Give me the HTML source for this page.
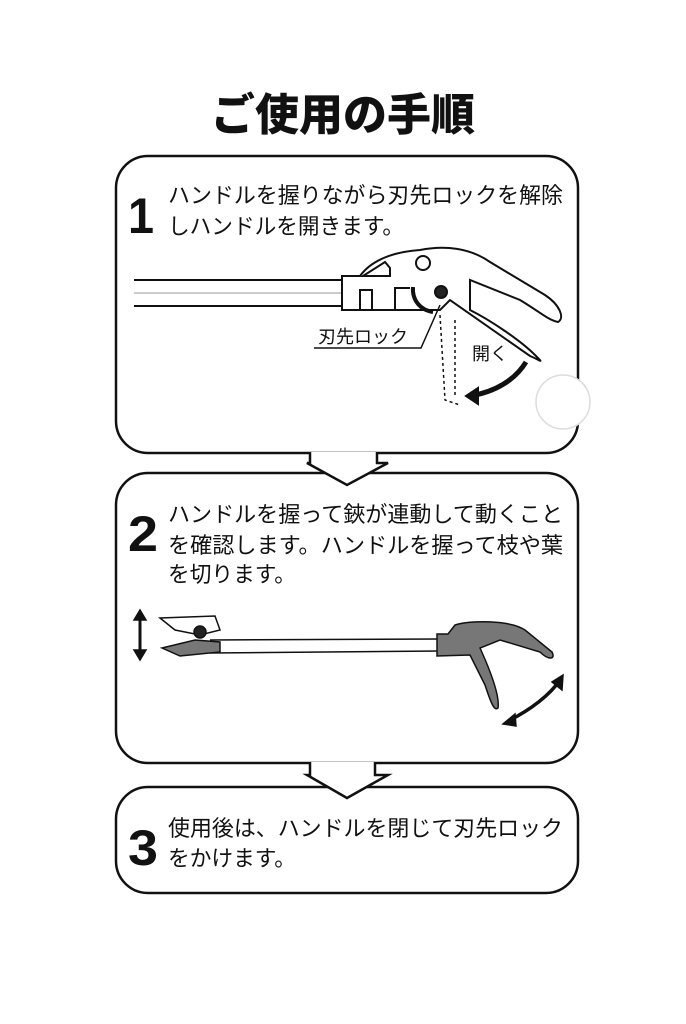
<!DOCTYPE html>
<html><head><meta charset="utf-8"><style>
html,body{margin:0;padding:0;background:#fff;}
svg{display:block}
.t{font-family:"Liberation Sans","Noto Sans CJK JP",sans-serif;font-size:22px;fill:#111}
.n{font-family:"Liberation Sans",sans-serif;font-weight:bold;font-size:50px;fill:#111}
</style></head><body>
<svg width="686" height="1024" viewBox="0 0 686 1024" xmlns="http://www.w3.org/2000/svg">
<text x="343" y="130" text-anchor="middle" style="font-family:'Liberation Sans','Noto Sans CJK JP',sans-serif;font-weight:900;font-size:44px;fill:#111">ご使用の手順</text>
<g fill="#fff" stroke="#111" stroke-width="2.5">
<rect x="116" y="156" width="462" height="297" rx="32"/>
<rect x="116" y="473" width="462" height="290" rx="32"/>
<rect x="116" y="787" width="462" height="106" rx="32"/>
<path d="M310 452 L310 463 L307 463 L347 485 L388 463 L377 463 L377 452"/>
<path d="M310 762 L310 775 L307 775 L347 798 L388 775 L375 775 L375 762"/>
</g>
<text class="n" x="128" y="233" textLength="26" lengthAdjust="spacingAndGlyphs">1</text>
<text class="t" x="168" y="203" textLength="395" lengthAdjust="spacingAndGlyphs">ハンドルを握りながら刃先ロックを解除</text>
<text class="t" x="168" y="234" textLength="236" lengthAdjust="spacingAndGlyphs">しハンドルを開きます。</text>
<text class="n" x="128" y="551" textLength="30" lengthAdjust="spacingAndGlyphs">2</text>
<text class="t" x="168" y="522" textLength="395" lengthAdjust="spacingAndGlyphs">ハンドルを握って鋏が連動して動くこと</text>
<text class="t" x="168" y="553" textLength="395" lengthAdjust="spacingAndGlyphs">を確認します。ハンドルを握って枝や葉</text>
<text class="t" x="168" y="582" textLength="128" lengthAdjust="spacingAndGlyphs">を切ります。</text>
<text class="n" x="128" y="865" textLength="30" lengthAdjust="spacingAndGlyphs">3</text>
<text class="t" x="168" y="836" textLength="395" lengthAdjust="spacingAndGlyphs">使用後は、ハンドルを閉じて刃先ロック</text>
<text class="t" x="168" y="866" textLength="128" lengthAdjust="spacingAndGlyphs">をかけます。</text>
<!-- figure 1 -->
<g fill="none" stroke="#111" stroke-width="2">
<line x1="134" y1="280" x2="342" y2="280"/>
<line x1="134" y1="306" x2="342" y2="306"/>
<line x1="134" y1="293" x2="342" y2="293" stroke="#999" stroke-width="1"/>
<path d="M342 276 L360 276 C370 262 390 252 420 250 C445 245 470 248 490 262 L545 295 C560 305 565 318 558 322 C548 320 540 312 520 300 L470 280 L470 310 C490 320 520 340 535 355 C545 365 540 360 530 356 L450 300 L440 310 L342 310 Z" fill="#fff"/>
<path d="M363 276 L385 262 L390 268 L390 276 Z"/>
<circle cx="423" cy="263" r="7"/>
<path d="M360 310 L360 290 L372 290 L372 310 M395 310 L395 288 L410 288"/>
<path d="M455 320 L455 395 M440 315 L445 400 L460 405" stroke-dasharray="3 3" stroke-width="1.5"/>
<circle cx="441" cy="292" r="6" fill="#222"/>
<path d="M413 287 C412 300 420 310 433 312" stroke-width="4"/>
<path d="M314 348 L421 348 L440 305" stroke-width="1.5"/>
<path d="M526 362 C515 380 495 392 470 396" stroke-width="5"/>
<path d="M466 396 L478 388 L478 404 Z" fill="#111"/>
</g>
<text class="t" x="318" y="343" style="font-size:18px">刃先ロック</text>
<text class="t" x="472" y="360" style="font-size:18px">開く</text>
<circle cx="563" cy="402" r="27" fill="#fff" stroke="#ddd" stroke-width="1.5"/>
<!-- figure 2 -->
<g stroke="#111" stroke-width="1.5">
<line x1="210" y1="640" x2="440" y2="639" />
<line x1="210" y1="653" x2="440" y2="651" />
<path d="M160 618 L215 616 L220 630 L200 635 L175 630 Z" fill="#fff"/>
<path d="M162 648 L195 640 L220 642 L220 652 L180 656 Z" fill="#777"/>
<circle cx="200" cy="632" r="6" fill="#222"/>
<path d="M437 634 L448 634 L455 625 C470 620 510 620 525 630 L552 652 C556 660 548 660 540 652 L500 640 L480 648 C490 670 500 695 498 708 C494 712 490 700 485 685 L470 655 L437 656 Z" fill="#777"/>
<path d="M140 613 L140 657" stroke-width="3"/>
<path d="M134 620 L140 610 L146 620 Z M134 650 L140 660 L146 650 Z" fill="#111"/>
<path d="M510 720 C530 710 550 695 560 680" stroke-width="3.5" fill="none"/>
<path d="M503 724 L515 714 L516 726 Z M563 675 L552 682 L562 690 Z" fill="#111"/>
</g>
</svg>
</body></html>
